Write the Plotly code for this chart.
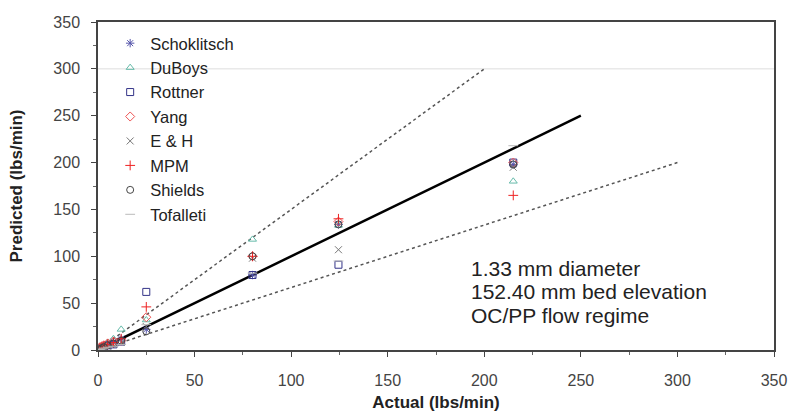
import plotly.graph_objects as go

# ---- data ----
actual = [1, 2, 3, 5, 8, 12, 25, 80, 124.5, 215]

schoklitsch = [2, 3, 4, 6, 9, 12, 22, 80, 134, 198]
duboys      = [3, 4, 5, 8, 12, 22, 32, 118, 133, 180]
rottner     = [1, 2, 3, 5, 6, 9, 62, 80, 91, 200]
yang        = [3, 4, 5, 7, 9, 10, 35, 100, 137, 200]
eh          = [1, 2, 3, 4, 6, 8, 25, 98, 107, 195]
mpm         = [2, 3, 4, 6, 8, 12, 46, 100, 140, 165]
shields     = [1, 2, 3, 5, 7, 10, 20, 100, 134, 198]
tofalleti   = [0.5, 1, 2, 3, 4, 6, 27, 82, 95, 218]

line_equal_x = [0, 250]
line_equal_y = [0, 250]
line_upper_x = [0, 200]
line_upper_y = [0, 300]
line_lower_x = [0, 300]
line_lower_y = [0, 200]

series = [
    ("Schoklitsch", schoklitsch, "asterisk-open", "#5555aa"),
    ("DuBoys", duboys, "triangle-up-open", "#66bbaa"),
    ("Rottner", rottner, "square-open", "#333388"),
    ("Yang", yang, "diamond-open", "#ee5555"),
    ("E & H", eh, "x-thin-open", "#777777"),
    ("MPM", mpm, "cross-thin-open", "#ee2222"),
    ("Shields", shields, "circle-open", "#444444"),
    ("Tofalleti", tofalleti, "line-ew-open", "#bbbbbb"),
]

fig = go.Figure()

for xs, ys, dash, w, col in [
    (line_upper_x, line_upper_y, "dot", 1.5, "#555555"),
    (line_lower_x, line_lower_y, "dot", 1.5, "#555555"),
    (line_equal_x, line_equal_y, "solid", 2.5, "#000000"),
]:
    fig.add_trace(go.Scatter(x=xs, y=ys, mode="lines", showlegend=False,
                             line=dict(color=col, width=w, dash=dash),
                             hoverinfo="skip"))

for name, ys, sym, col in series:
    fig.add_trace(go.Scatter(
        x=actual, y=ys, mode="markers", name=name, legendgroup=name,
        marker=dict(symbol=sym, size=7, color=col, line=dict(color=col, width=1)),
    ))

font_family = "Liberation Sans, Arial, sans-serif"

fig.add_shape(type="line", xref="paper", x0=0, x1=1, yref="y", y0=300, y1=300,
              line=dict(color="#dddddd", width=1), layer="below")

ann_lines = ["1.33 mm diameter", "152.40 mm bed elevation", "OC/PP flow regime"]
ann_y = [87.5, 62, 36.5]
for t, yy in zip(ann_lines, ann_y):
    fig.add_annotation(x=192, y=yy, text=t, showarrow=False, xanchor="left",
                       yanchor="middle", font=dict(size=21, color="#222222",
                                                   family=font_family))

axis_common = dict(
    showgrid=False, zeroline=False, showline=True, linecolor="#444444",
    linewidth=1.5, mirror=True, ticks="outside", ticklen=5, tickcolor="#444444",
    tickfont=dict(size=16, color="#444444", family=font_family),
    minor=dict(ticks="outside", ticklen=3, dtick=25, tickcolor="#666666"),
    automargin=False,
)

fig.update_layout(
    width=794, height=412,
    margin=dict(l=98, r=20, t=22, b=62),
    paper_bgcolor="white", plot_bgcolor="white",
    font=dict(family=font_family),
    xaxis=dict(range=[0, 350], dtick=50,
               title=dict(text="<b>Actual (lbs/min)</b>", standoff=8,
                          font=dict(size=17, color="#222222")),
               ticklabelstandoff=10, **axis_common),
    yaxis=dict(range=[0, 350], dtick=50,
               title=dict(text="<b>Predicted (lbs/min)</b>", standoff=26,
                          font=dict(size=17, color="#222222")),
               ticklabelstandoff=8, **axis_common),
    legend=dict(x=0.018, y=0.988, xanchor="left", yanchor="top",
                bgcolor="rgba(0,0,0,0)", tracegroupgap=0,
                font=dict(size=16.5, color="#222222", family=font_family),
                itemwidth=30),
    showlegend=True,
)

fig.write_html("out.html",
               config={"displayModeBar": False},
               post_script="document.body.style.margin='0';document.body.style.overflow='hidden';")
